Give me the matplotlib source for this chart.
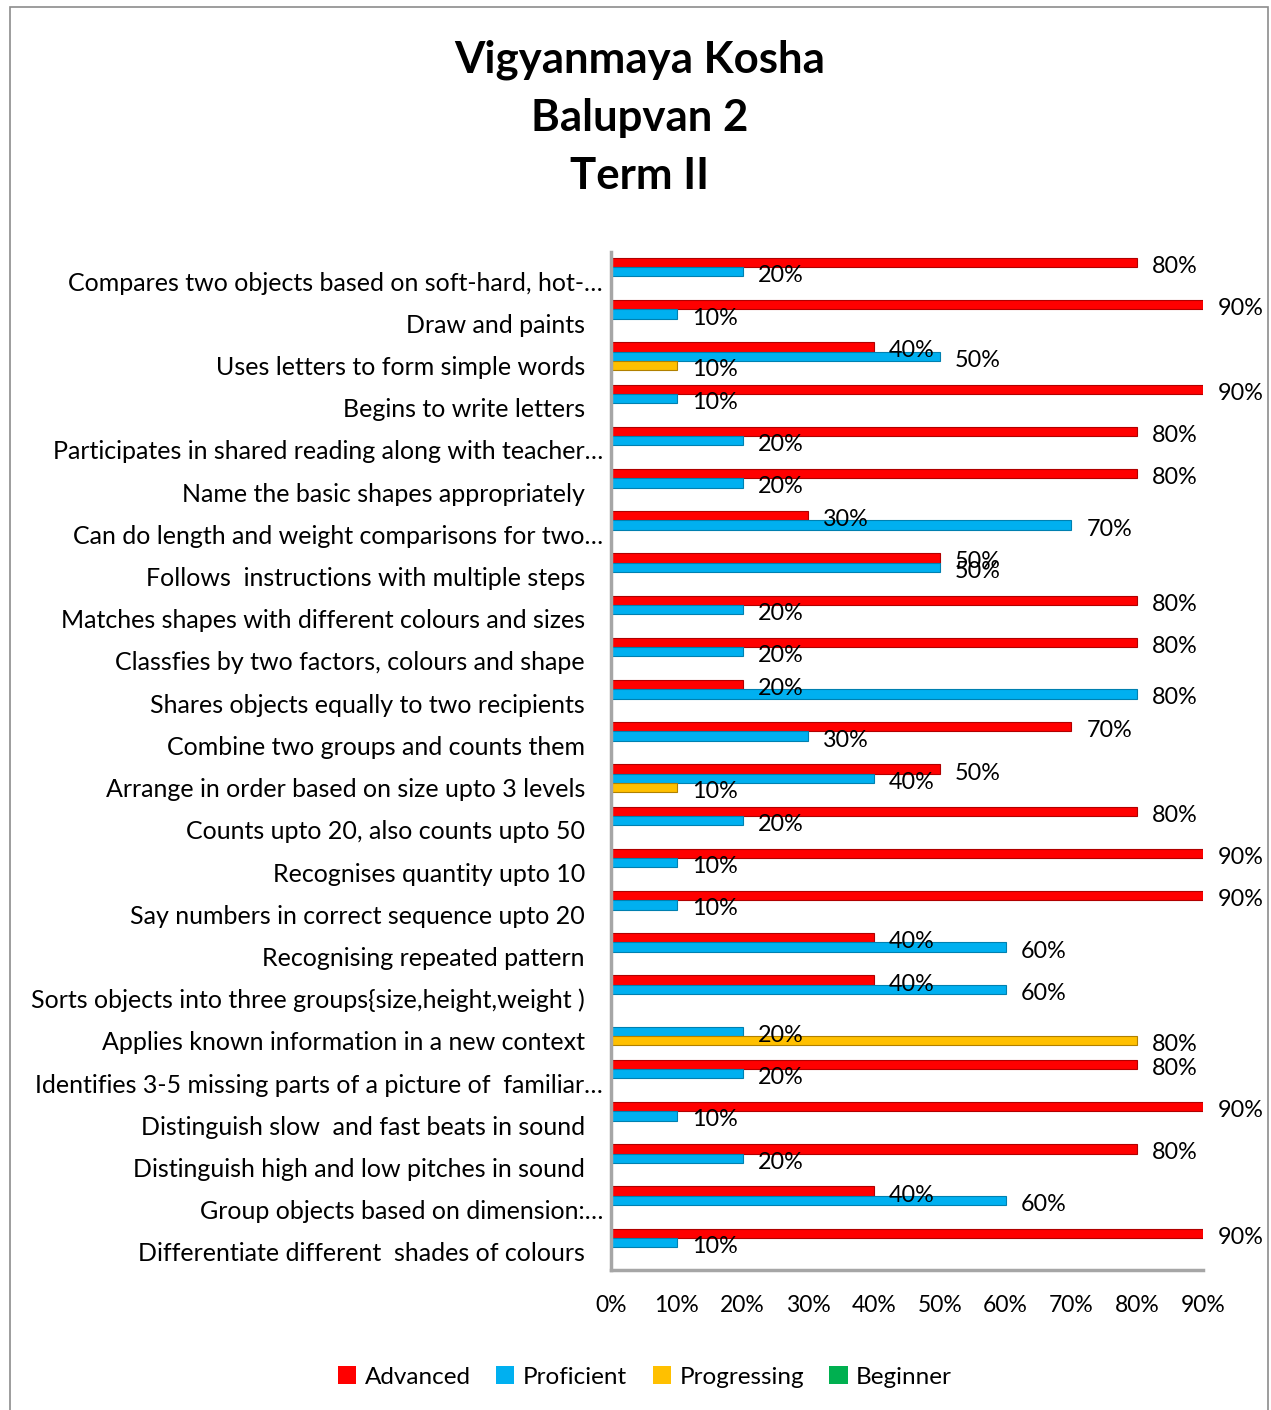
import matplotlib
matplotlib.use("Agg")
import matplotlib.pyplot as plt
from matplotlib.patches import Rectangle, Patch
import numpy as np

plt.rcParams['font.family'] = ['Lato', 'DejaVu Sans']

categories = [
    "Compares two objects based on soft-hard, hot-…",
    "Draw and paints",
    "Uses letters to form simple words",
    "Begins to write letters",
    "Participates in shared reading along with teacher…",
    "Name the basic shapes appropriately",
    "Can do length and weight comparisons for two…",
    "Follows  instructions with multiple steps",
    "Matches shapes with different colours and sizes",
    "Classfies by two factors, colours and shape",
    "Shares objects equally to two recipients",
    "Combine two groups and counts them",
    "Arrange in order based on size upto 3 levels",
    "Counts upto 20, also counts upto 50",
    "Recognises quantity upto 10",
    "Say numbers in correct sequence upto 20",
    "Recognising repeated pattern",
    "Sorts objects into three groups{size,height,weight )",
    "Applies known information in a new context",
    "Identifies 3-5 missing parts of a picture of  familiar…",
    "Distinguish slow  and fast beats in sound",
    "Distinguish high and low pitches in sound",
    "Group objects based on dimension:…",
    "Differentiate different  shades of colours",
]

advanced    = [80, 90, 40, 90, 80, 80, 30, 50, 80, 80, 20, 70, 50, 80, 90, 90, 40, 40, 0, 80, 90, 80, 40, 90]
proficient  = [20, 10, 50, 10, 20, 20, 70, 50, 20, 20, 80, 30, 40, 20, 10, 10, 60, 60, 20, 20, 10, 20, 60, 10]
progressing = [0, 0, 10, 0, 0, 0, 0, 0, 0, 0, 0, 0, 10, 0, 0, 0, 0, 0, 80, 0, 0, 0, 0, 0]
beginner    = [0] * 24

series_names = ["Advanced", "Proficient", "Progressing", "Beginner"]
series_values = [advanced, proficient, progressing, beginner]
colors = ["#FF0000", "#00B0F0", "#FFC000", "#00B050"]
edges = ["#B00000", "#0080B0", "#B08000", "#007030"]
xticks = [0, 10, 20, 30, 40, 50, 60, 70, 80, 90]

W, H = 1271, 1410
fig = plt.figure(figsize=(W / 100, H / 100), dpi=100)

ax = fig.add_axes([611 / W, 1 - 1270 / H, (1203 - 611) / W, (1270 - 252) / H])

y = np.arange(len(categories))
h = 0.22
offsets = [-0.44, -0.22, 0.0, 0.22]
for vals, off, c, ec in zip(series_values, offsets, colors, edges):
    vals = np.array(vals, dtype=float)
    mask = vals > 0
    ax.barh(y[mask] + off, vals[mask], height=h, color=c, edgecolor=ec, linewidth=0.8)
    for yi, v in zip(y[mask] + off, vals[mask]):
        ax.annotate(f"{int(v)}%", (v, yi), xytext=(15, -4), textcoords="offset pixels",
                    ha="left", va="center", fontsize=16.8, color="black")

ax.set_xlim(0, 90)
ax.set_ylim(23.43, -0.69)
ax.set_yticks(y)
ax.set_yticklabels([])
for yi, lab in zip(y, categories):
    dx = -26 + (18 if lab.endswith("…") else 0)
    ax.annotate(lab, xy=(0, yi), xycoords=("axes fraction", "data"), xytext=(dx, -2),
                textcoords="offset pixels", ha="right", va="center", fontsize=18)
ax.set_xticks(xticks)
ax.set_xticklabels([f"{t}%" for t in xticks], fontsize=16.5)
ax.tick_params(axis="y", length=0)
ax.tick_params(axis="x", length=0, pad=18)
for s in ["top", "right"]:
    ax.spines[s].set_visible(False)
for s in ["left", "bottom"]:
    ax.spines[s].set_color("#A6A6A6")
    ax.spines[s].set_linewidth(2.5)

fig.text(640 / W, 1 - 118 / H, "Vigyanmaya Kosha\nBalupvan 2\nTerm II", ha="center", va="center",
         fontsize=31.5, fontweight="bold", linespacing=1.55)

handles = [Patch(facecolor=c, edgecolor="none", label=n) for c, n in zip(colors, series_names)]
fig.legend(handles=handles, loc="center", bbox_to_anchor=(645 / W, 1 - 1377 / H), ncol=4,
           frameon=False, fontsize=17.5, handlelength=0.75, handleheight=0.75, handletextpad=0.35,
           columnspacing=1.05)

fig.patches.append(Rectangle((10 / W, -0.01), (1268 - 10) / W, 1.01 - 7 / H, transform=fig.transFigure,
                             fill=False, edgecolor="#8C8C8C", linewidth=1.2))

fig.savefig("out.png", dpi=100)
